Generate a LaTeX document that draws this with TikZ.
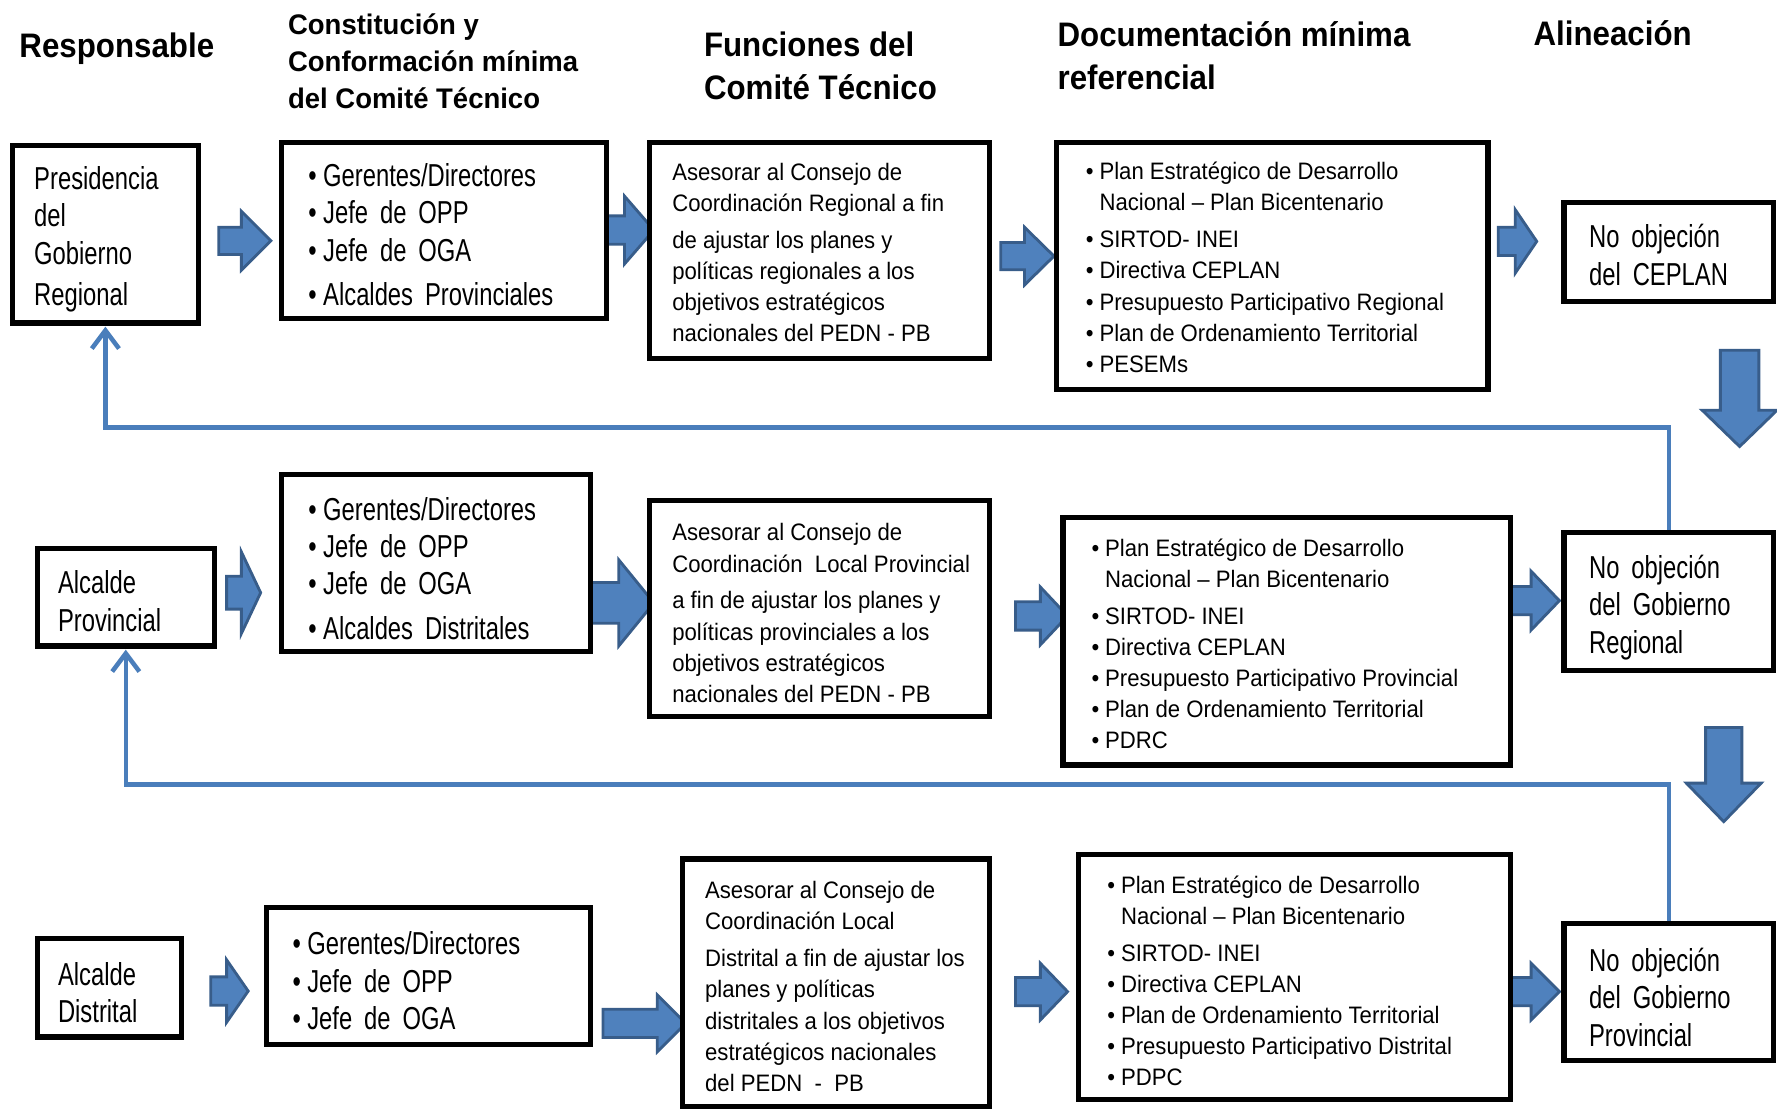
\documentclass[tikz,border=0pt]{standalone}
\usepackage{fontspec}
\setmainfont{Liberation Sans}
\newfontfamily\fhead{Liberation Sans}[FakeStretch=0.92]
\newfontfamily\fcons{Liberation Sans}[FakeStretch=0.97]
\newfontfamily\fbig{Liberation Sans}[FakeStretch=0.75,WordSpace=1.8]
\newfontfamily\fsmall{Liberation Sans}[FakeStretch=0.93]
\usetikzlibrary{arrows.meta}
\definecolor{afill}{HTML}{4F81BD}
\definecolor{aedge}{HTML}{385D8A}
\definecolor{fbline}{HTML}{4A7EBB}
\newcommand\bb{\makebox[13pt][l]{•}}
\newcommand\bs{\makebox[12pt][l]{•}}
\newcommand\ind{\hspace*{12pt}}
% right block arrow: x0, xh, x1, yc, shaft half, head half
\newcommand\rarrow[6]{\draw[blockarr] (#1,#4-#5) -- (#2,#4-#5) -- (#2,#4-#6) -- (#3,#4) -- (#2,#4+#6) -- (#2,#4+#5) -- (#1,#4+#5) -- cycle;}
% down block arrow: xc, y0, yh, y1, shaft half, head half
\newcommand\darrow[6]{\draw[blockarr] (#1-#5,#2) -- (#1-#5,#3) -- (#1-#6,#3) -- (#1,#4) -- (#1+#6,#3) -- (#1+#5,#3) -- (#1+#5,#2) -- cycle;}
\tikzset{
 box/.style={draw=black, line width=4.5pt, fill=white, inner sep=0pt},
 hdr/.style={font=\fhead\bfseries\fontsize{30}{38.5}\selectfont, anchor=west, align=left, inner sep=0pt},
 hdrc/.style={font=\fcons\bfseries\fontsize{25}{33}\selectfont, anchor=west, align=left, inner sep=0pt},
 bigtxt/.style={font=\fbig\fontsize{28}{33}\selectfont, anchor=west, align=left, inner sep=0pt},
 smalltxt/.style={font=\fsmall\fontsize{21}{27.5}\selectfont, anchor=west, align=left, inner sep=0pt},
 blockarr/.style={fill=afill, draw=aedge, line width=2.5pt, line join=miter},
 fb/.style={draw=fbline, line width=4pt, -{Straight Barb[length=16pt,width=24pt]}, shorten >=1pt},
}
\begin{document}
\begin{tikzpicture}[x=1pt,y=-1pt]
\useasboundingbox (0,0) rectangle (1568,979);
\fill[white] (0,0) rectangle (1568,979);

% headers
\node[hdr] (h1) at (17,43) {Responsable};
\node[hdrc] (h2) at (254,54) {Constitución y\\Conformación mínima\\del Comité Técnico};
\node[hdr] (h3) at (621,58) {Funciones del\\Comité Técnico};
\node[hdr] (h4) at (933,49) {Documentación mínima\\referencial};
\node[hdr] (h5) at (1353,29) {Alineación};

% block arrows (drawn below boxes)
\rarrow{193}{213}{239}{212.5}{12}{26}
\rarrow{530}{551}{577}{203}{12.5}{30}
\rarrow{883}{904}{930}{226}{12}{25.5}
\rarrow{1322}{1337}{1356}{213}{12.5}{28}
\rarrow{200}{213}{230}{523}{14.5}{36}
\rarrow{517}{546}{577}{532}{18}{38}
\rarrow{896}{918}{942}{543.5}{12.5}{25.5}
\rarrow{1330}{1351}{1376}{530}{12.5}{26}
\rarrow{186}{200}{219}{874.5}{12.5}{27.5}
\rarrow{532}{580}{605}{903}{12.5}{25}
\rarrow{896}{918}{942}{875}{12.5}{25}
\rarrow{1330}{1351}{1376}{875}{12.5}{25}
\darrow{1535}{309}{362}{394}{17}{33}
\darrow{1521}{642}{691}{725}{16}{33}

% row 1 boxes
\node[box, minimum width=164pt, minimum height=157pt] (r1a) at (93,206.5) {};
\node[box, minimum width=287pt, minimum height=155pt] (r1b) at (391.5,203.5) {};
\node[box, minimum width=300pt, minimum height=190pt] (r1c) at (723,221) {};
\node[box, minimum width=381pt, minimum height=218pt] (r1d) at (1122.5,235) {};
\node[box, minimum width=185pt, minimum height=87pt] (r1e) at (1472.5,222.5) {};
% row 2 boxes
\node[box, minimum width=156pt, minimum height=86pt] (r2a) at (111,527) {};
\node[box, minimum width=273pt, minimum height=156pt] (r2b) at (384.5,497) {};
\node[box, minimum width=300pt, minimum height=190pt] (r2c) at (723,537) {};
\node[box, minimum width=395pt, minimum height=218pt] (r2d) at (1135.5,566) {};
\node[box, minimum width=185pt, minimum height=122pt] (r2e) at (1472.5,531) {};
% row 3 boxes
\node[box, minimum width=127pt, minimum height=87pt] (r3a) at (96.5,871.5) {};
\node[box, minimum width=286pt, minimum height=121pt] (r3b) at (378,861.5) {};
\node[box, minimum width=271pt, minimum height=218pt] (r3c) at (737.5,867) {};
\node[box, minimum width=381pt, minimum height=216pt] (r3d) at (1142.5,862) {};
\node[box, minimum width=185pt, minimum height=121pt] (r3e) at (1472.5,875.5) {};

% row 1 texts
\node[bigtxt] (t1a) at (30,211) {Presidencia\\del\\Gobierno\\[3pt]Regional};
\node[bigtxt] (t1b) at (272,207) {\bb Gerentes/Directores\\\bb Jefe de OPP\\\bb Jefe de OGA\\[6pt]\bb Alcaldes Provinciales};
\node[smalltxt] (t1c) at (593,223) {Asesorar al Consejo de\\Coordinación Regional a fin\\[5pt]de ajustar los planes y\\políticas regionales a los\\objetivos estratégicos\\nacionales del PEDN - PB};
\node[smalltxt] (t1d) at (958,236) {\bs Plan Estratégico de Desarrollo\\\ind Nacional – Plan Bicentenario\\[5pt]\bs SIRTOD- INEI\\\bs Directiva CEPLAN\\\bs Presupuesto Participativo Regional\\\bs Plan de Ordenamiento Territorial\\\bs PESEMs};
\node[bigtxt] (t1e) at (1402,225) {No objeción\\del CEPLAN};

% row 2 texts
\node[bigtxt] (t2a) at (51,530.5) {Alcalde\\Provincial};
\node[bigtxt] (t2b) at (272,501.5) {\bb Gerentes/Directores\\\bb Jefe de OPP\\\bb Jefe de OGA\\[6pt]\bb Alcaldes Distritales};
\node[smalltxt] (t2c) at (593,541) {Asesorar al Consejo de\\Coordinación\ \ Local Provincial\\[5pt]a fin de ajustar los planes y\\políticas provinciales a los\\objetivos estratégicos\\nacionales del PEDN - PB};
\node[smalltxt] (t2d) at (963,568) {\bs Plan Estratégico de Desarrollo\\\ind Nacional – Plan Bicentenario\\[5pt]\bs SIRTOD- INEI\\\bs Directiva CEPLAN\\\bs Presupuesto Participativo Provincial\\\bs Plan de Ordenamiento Territorial\\\bs PDRC};
\node[bigtxt] (t2e) at (1402,536) {No objeción\\del Gobierno\\Regional};

% row 3 texts
\node[bigtxt] (t3a) at (51,876) {Alcalde\\Distrital};
\node[bigtxt] (t3b) at (258,865.5) {\bb Gerentes/Directores\\\bb Jefe de OPP\\\bb Jefe de OGA};
\node[smalltxt] (t3c) at (622,870.5) {Asesorar al Consejo de\\Coordinación Local\\[5pt]Distrital a fin de ajustar los\\planes y políticas\\distritales a los objetivos\\estratégicos nacionales\\del PEDN\ \ -\ \ PB};
\node[smalltxt] (t3d) at (977,865.5) {\bs Plan Estratégico de Desarrollo\\\ind Nacional – Plan Bicentenario\\[5pt]\bs SIRTOD- INEI\\\bs Directiva CEPLAN\\\bs Plan de Ordenamiento Territorial\\\bs Presupuesto Participativo Distrital\\\bs PDPC};
\node[bigtxt] (t3e) at (1402,880) {No objeción\\del Gobierno\\Provincial};

% feedback lines
\coordinate (fy1) at (0,377);
\coordinate (fy2) at (0,692);
\draw[fb] (r2e.north) -- (r2e.north |- fy1) -| (r1a.south);
\draw[fb] (r3e.north) -- (r3e.north |- fy2) -| (r2a.south);
\end{tikzpicture}
\end{document}
